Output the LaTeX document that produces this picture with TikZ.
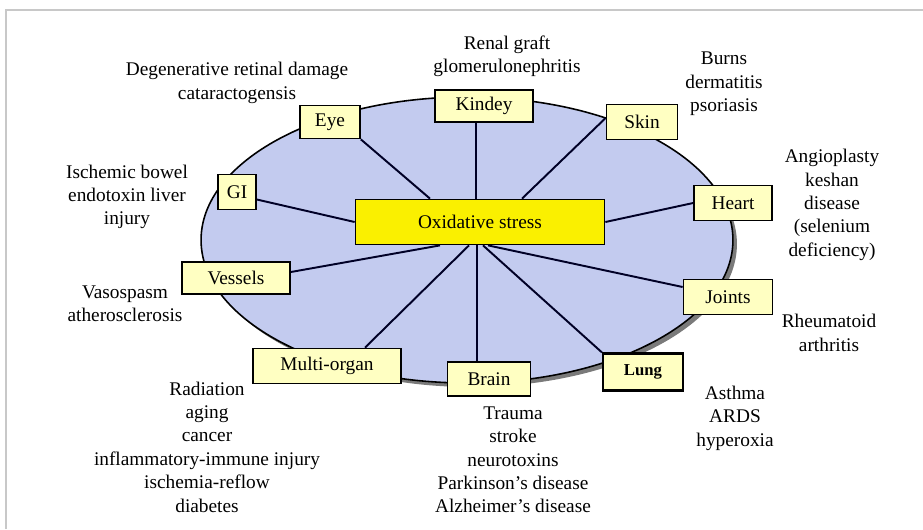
\documentclass[tikz,border=0pt]{standalone}
\usepackage{fontspec}
\setmainfont{Liberation Serif}
\usepackage{tikz}
\definecolor{ovalblue}{HTML}{C3CBEF}
\definecolor{organlt}{HTML}{FFFFC2}
\definecolor{stressyellow}{HTML}{FAF000}
\definecolor{shadowgray}{HTML}{7A7A7A}
\definecolor{framegray}{HTML}{C8C8C8}

\begin{document}
\begin{tikzpicture}[
  x=0.02cm, y=-0.02cm,
  organ/.style={draw, line width=1pt, fill=organlt, inner sep=0pt, font=\fontsize{11}{13}\selectfont, minimum height=0.7cm},
  stress/.style={organ, fill=stressyellow, minimum width=4.98cm, minimum height=0.9cm},
  spoke/.style={line width=1.1pt, draw=black!85!blue},
  cause/.style={align=center, inner sep=0pt, font=\fontsize{11}{13.3}\selectfont},
]
\useasboundingbox (0,0) rectangle (923,529);
\draw[framegray, line width=0.6pt] (6,529) -- (6,10) -- (923,10);

% ── Oval with shadow ──
\fill[shadowgray] (471,244) ellipse [x radius=5.32cm, y radius=2.86cm];
\draw[fill=ovalblue, line width=0.9pt] (467,240) ellipse [x radius=5.32cm, y radius=2.86cm];

% ── Centre and organs ──
\node[stress] (ox) at (480,222) {Oxidative stress};

\node[organ, minimum width=1.96cm, minimum height=0.64cm] (kidney) at (484,106) {Kindey};
\node[organ, minimum width=1.2cm, minimum height=0.66cm] (eye) at (330,122) {Eye};
\node[organ, minimum width=1.42cm] (skin) at (642,122) {Skin};
\node[organ, minimum width=0.76cm] (gi) at (237,192) {GI};
\node[organ, minimum width=1.56cm] (heart) at (733,203) {Heart};
\node[organ, minimum width=2.16cm, minimum height=0.64cm] (vessels) at (236,278) {Vessels};
\node[organ, minimum width=1.78cm] (joints) at (728,297) {Joints};
\node[organ, minimum width=2.96cm] (multi) at (327,366) {Multi-organ};
\node[organ, minimum width=1.66cm, minimum height=0.68cm] (brain) at (489,379) {Brain};
\node[organ, line width=1.3pt, minimum width=1.6cm, minimum height=0.74cm, font=\fontsize{9.5}{11}\selectfont\bfseries] (lung) at (643,372) {Lung};

% ── Spokes ──
\draw[spoke] ([xshift=-1cm]ox.north) -- (eye.south east);
\draw[spoke] ([xshift=-0.08cm]ox.north) -- ([xshift=-0.08cm]ox.north |- kidney.south);
\draw[spoke] ([xshift=0.84cm]ox.north) -- ([yshift=0.08cm]skin.west);
\draw[spoke] (ox.west) -- ([yshift=-0.15cm]gi.east);
\draw[spoke] (ox.east) -- (heart.west);
\draw[spoke] ([xshift=-0.8cm]ox.south) -- ([yshift=0.12cm]vessels.east);
\draw[spoke] ([xshift=-0.22cm]ox.south) -- ([xshift=0.76cm]multi.north);
\draw[spoke] ([xshift=-0.06cm]ox.south) -- ([xshift=-0.06cm]ox.south |- brain.north);
\draw[spoke] ([xshift=0.06cm]ox.south) -- (lung.north west);
\draw[spoke] ([xshift=0.16cm]ox.south) -- ([yshift=0.2cm]joints.west);

% ── Conditions ──
\node[cause] (renal) at (507,56) {Renal graft\\glomerulonephritis};
\node[cause] (retina) at (237,83) {Degenerative retinal damage\\cataractogensis};
\node[cause] (burns) at (724,84) {Burns\\dermatitis\\psoriasis};
\node[cause] (bowel) at (127,197) {Ischemic bowel\\endotoxin liver\\injury};
\node[cause] (angio) at (832,205) {Angioplasty\\keshan\\disease\\(selenium\\deficiency)};
\node[cause] (vaso) at (125,304) {Vasospasm\\atherosclerosis};
\node[cause] (rheum) at (829,333) {Rheumatoid\\arthritis};
\node[cause] (asthma) at (735,418) {Asthma\\ARDS\\hyperoxia};
\node[cause] (trauma) at (513,460) {Trauma\\stroke\\neurotoxins\\Parkinson's disease\\Alzheimer's disease};
\node[cause] (radiation) at (207,447) {Radiation\\aging\\cancer\\inflammatory-immune injury\\ischemia-reflow\\diabetes};

\end{tikzpicture}
\end{document}
